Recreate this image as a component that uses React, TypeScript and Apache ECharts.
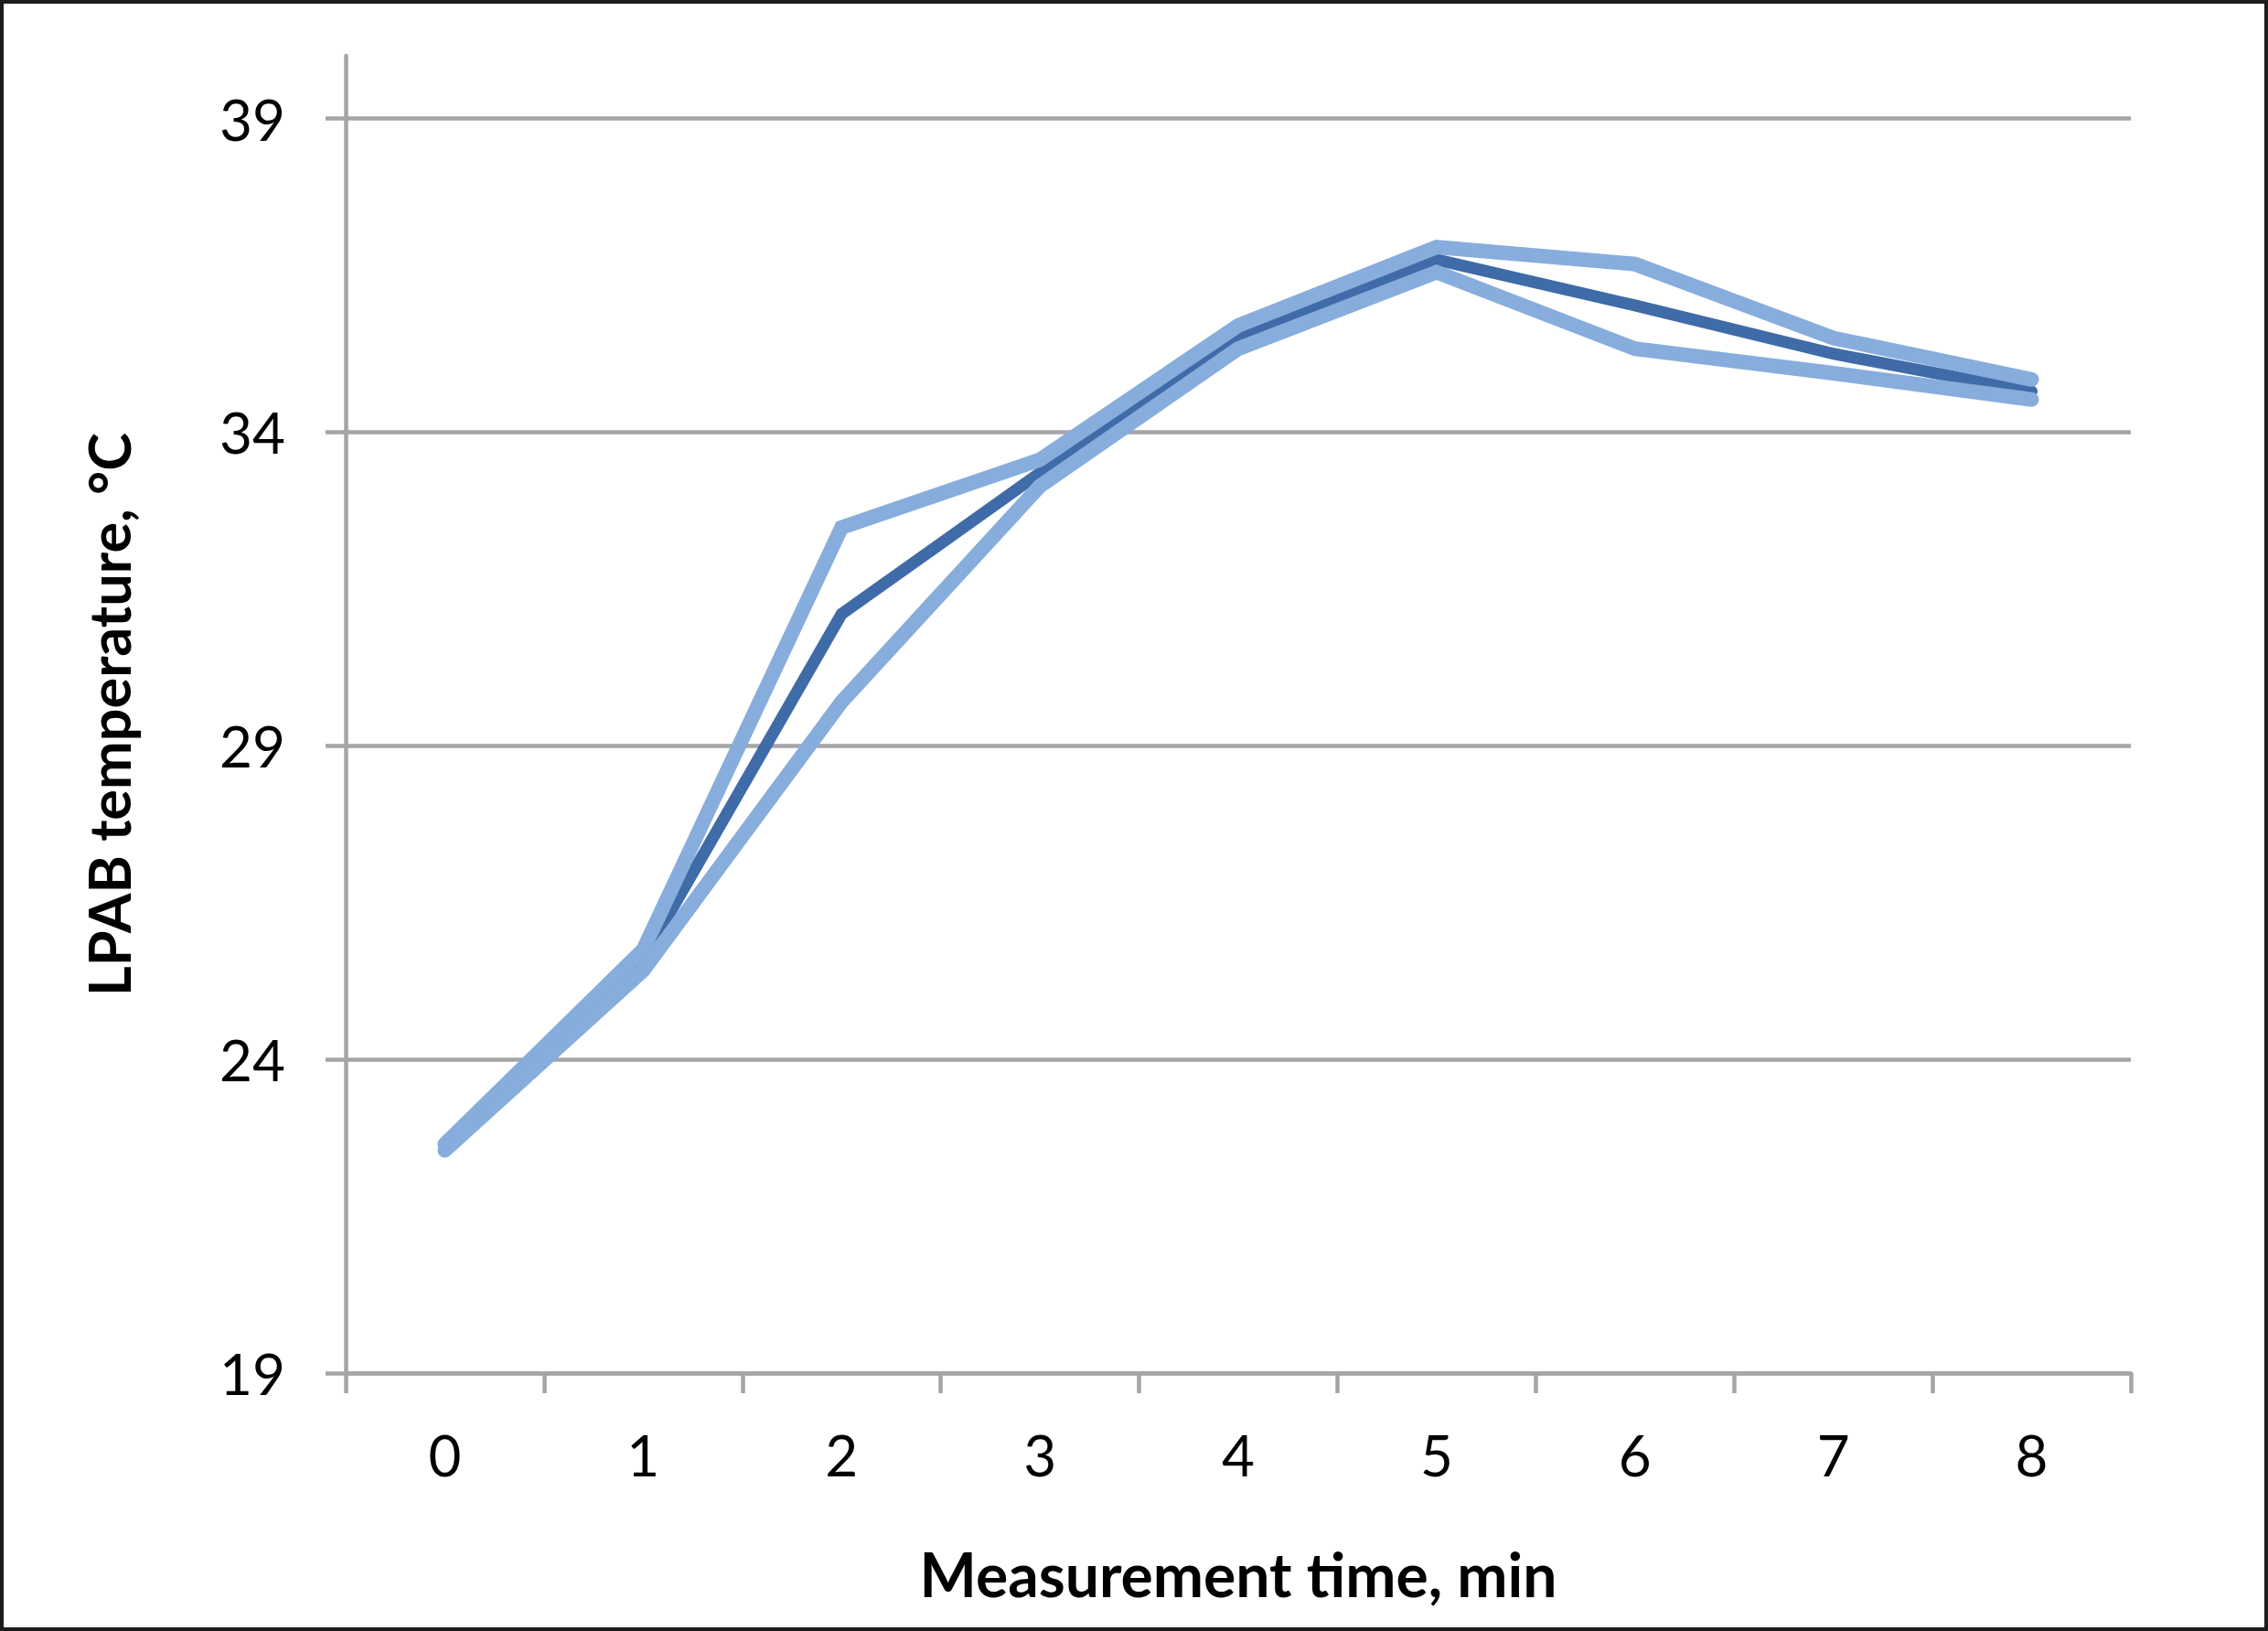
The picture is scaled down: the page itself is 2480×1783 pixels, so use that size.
import React, { useEffect, useRef } from "react";
import * as echarts from "echarts";

const categories = ["0", "1", "2", "3", "4", "5", "6", "7", "8"];
const meanSeries = [22.6, 25.6, 31.1, 33.35, 35.5, 36.75, 36.02, 35.25, 34.65];
const upperSeries = [22.65, 25.75, 32.48, 33.56, 35.7, 36.95, 36.68, 35.5, 34.84];
const lowerSeries = [22.55, 25.42, 29.7, 33.14, 35.33, 36.55, 35.33, 34.94, 34.52];
const yTicks = [19, 24, 29, 34, 39];
const xTitle = "Measurement time, min";
const yTitle = "LPAB temperature, °C";

const FONT = "Lato";
const GRAY = "#A5A5A8";
const DARK = "#3F6BA8";
const LIGHT = "#87ADDC";

export default function App() {
  const ref = useRef<HTMLDivElement>(null);

  useEffect(() => {
    document.body.style.margin = "0";
    const chart = echarts.init(ref.current!, null, { renderer: "svg" });
    const lineSeries = (name: string, data: number[], color: string, width: number, z: number) => ({
      name,
      type: "line",
      data,
      symbol: "none",
      showSymbol: false,
      z,
      lineStyle: { color, width, cap: "round", join: "miter" },
      emphasis: { disabled: true },
    });
    chart.setOption({
      animation: false,
      backgroundColor: "#ffffff",
      grid: { left: 378, right: 150, top: 61, bottom: 282, containLabel: false },
      xAxis: {
        type: "category",
        data: categories,
        boundaryGap: true,
        name: xTitle,
        nameLocation: "middle",
        nameGap: 186,
        nameTextStyle: { fontFamily: FONT, fontWeight: "bold", fontSize: 66, color: "#000" },
        axisLine: { lineStyle: { color: GRAY, width: 4.5 } },
        axisTick: { show: true, alignWithLabel: false, length: 22, lineStyle: { color: GRAY, width: 4.5 } },
        axisLabel: { fontFamily: FONT, fontSize: 62, color: "#000", margin: 58 },
        splitLine: { show: false },
      },
      yAxis: {
        type: "value",
        min: 19,
        max: 40,
        name: yTitle,
        nameLocation: "middle",
        nameRotate: 90,
        nameGap: 228,
        nameTextStyle: { fontFamily: FONT, fontWeight: "bold", fontSize: 63, color: "#000" },
        axisLine: { show: true, lineStyle: { color: GRAY, width: 4.5 } },
        axisTick: { show: true, length: 22, customValues: yTicks, lineStyle: { color: GRAY, width: 4.5 } },
        axisLabel: { fontFamily: FONT, fontSize: 62, color: "#000", margin: 66, customValues: yTicks },
        splitLine: { show: true, lineStyle: { color: GRAY, width: 4.5 } },
      },
      series: [
        lineSeries("Mean", meanSeries, DARK, 13, 2),
        lineSeries("Upper", upperSeries, LIGHT, 16, 3),
        lineSeries("Lower", lowerSeries, LIGHT, 16, 4),
      ],
    });
    return () => chart.dispose();
  }, []);

  return (
    <div style={{ position: "fixed", left: 0, top: 0, width: 2480, height: 1783, background: "#fff" }}>
      <div ref={ref} style={{ position: "absolute", left: 0, top: 0, width: 2480, height: 1783 }} />
      <div
        style={{
          position: "absolute",
          left: 0,
          top: 0,
          width: 2480,
          height: 1783,
          boxSizing: "border-box",
          border: "4px solid #1c1c1c",
          pointerEvents: "none",
        }}
      />
    </div>
  );
}
